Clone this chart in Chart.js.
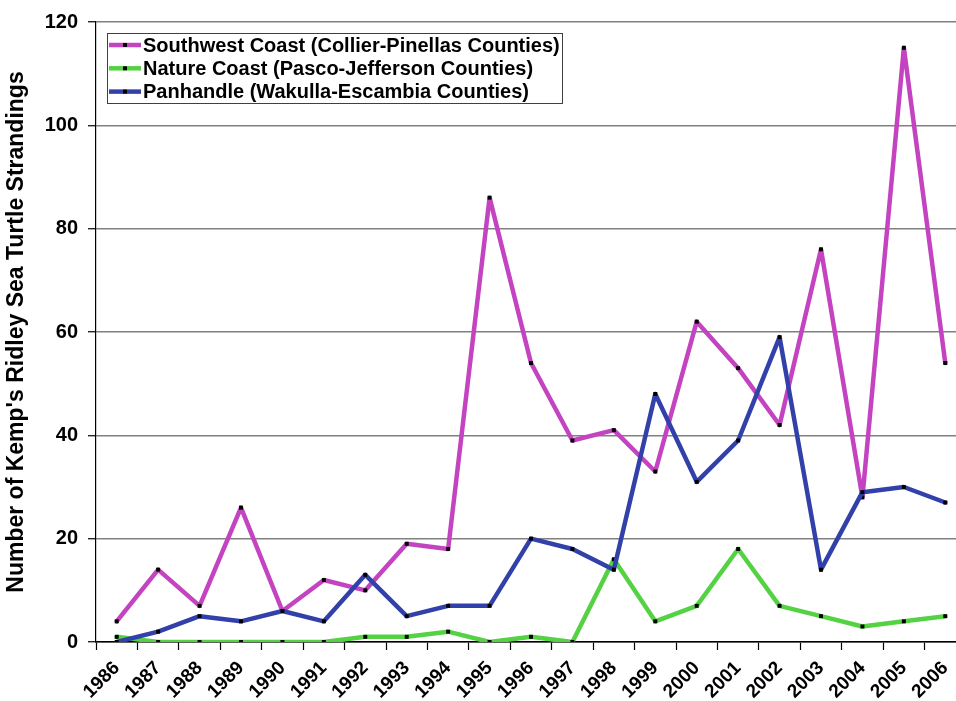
<!DOCTYPE html>
<html>
<head>
<meta charset="utf-8">
<script src="https://cdn.jsdelivr.net/npm/chart.js@4.4.1/dist/chart.umd.min.js"></script>
<style>
  html, body { margin: 0; padding: 0; background: #fff; overflow: hidden; }
  #wrap { width: 970px; height: 701px; }
</style>
</head>
<body>
<div id="wrap">
  <canvas id="strandings" width="970" height="701"></canvas>
</div>
<script>
// Yearly strandings by Florida Gulf coast region
const years = ["1986", "1987", "1988", "1989", "1990", "1991", "1992", "1993", "1994", "1995", "1996",
  "1997", "1998", "1999", "2000", "2001", "2002", "2003", "2004", "2005", "2006"];
const southwestCoast = [4, 14, 7, 26, 6, 12, 10, 19, 18, 86, 54, 39, 41, 33, 62, 53, 42, 76, 28, 115, 54];
const natureCoast = [1, 0, 0, 0, 0, 0, 1, 1, 2, 0, 1, 0, 16, 4, 7, 18, 7, 5, 3, 4, 5];
const panhandle = [0, 2, 5, 4, 6, 4, 13, 5, 7, 7, 20, 18, 14, 48, 31, 39, 59, 14, 29, 30, 27];
const seriesNames = [
  "Southwest Coast (Collier-Pinellas Counties)",
  "Nature Coast (Pasco-Jefferson Counties)",
  "Panhandle (Wakulla-Escambia Counties)",
];
const yTicks = [0, 20, 40, 60, 80, 100, 120];

const FONT = "'Liberation Sans', Arial, sans-serif";

// boxed legend sitting in the top-left corner of the plot
const legendBox = {
  id: "legendBox",
  afterDatasetsDraw(chart) {
    const { ctx, chartArea } = chart;
    const x = chartArea.left + 11;
    const y = chartArea.top + 11;
    const w = 455, h = 70, rowH = 23.3;
    ctx.save();
    ctx.fillStyle = "#fff";
    ctx.fillRect(x, y, w, h);
    ctx.strokeStyle = "#404040";
    ctx.lineWidth = 1;
    ctx.strokeRect(x + 0.5, y + 0.5, w, h);
    ctx.font = "bold 20px " + FONT;
    ctx.textBaseline = "middle";
    chart.data.datasets.forEach((ds, i) => {
      const cy = y + 12 + i * rowH;
      ctx.strokeStyle = ds.borderColor;
      ctx.lineWidth = 4.5;
      ctx.beginPath();
      ctx.moveTo(x + 2, cy);
      ctx.lineTo(x + 34, cy);
      ctx.stroke();
      ctx.fillStyle = "#000";
      ctx.fillRect(x + 16, cy - 2, 4, 4);
      ctx.fillText(ds.label, x + 36, cy + 1);
    });
    ctx.restore();
  },
};

const makeSeries = (label, data, color, order) => ({
  label,
  data,
  order,
  borderColor: color,
  backgroundColor: "#000",
  borderWidth: 4.5,
  borderJoinStyle: "round",
  borderCapStyle: "round",
  tension: 0,
  pointStyle: "rect",
  pointRadius: 2.8,
  pointBorderWidth: 0,
  pointBackgroundColor: "#000",
});

new Chart(document.getElementById("strandings"), {
  type: "line",
  data: {
    labels: years,
    datasets: [
      makeSeries(seriesNames[0], southwestCoast, "#C443C0", 3),
      makeSeries(seriesNames[1], natureCoast, "#55D243", 2),
      makeSeries(seriesNames[2], panhandle, "#3241AA", 1),
    ],
  },
  options: {
    responsive: false,
    animation: false,
    devicePixelRatio: 1,
    layout: { padding: { top: 18, right: 4, left: 0, bottom: 0 } },
    plugins: {
      legend: { display: false },
      tooltip: { enabled: false },
    },
    scales: {
      x: {
        type: "category",
        offset: true,
        afterFit: (scale) => { scale.height = 59; },
        grid: {
          display: true,
          drawOnChartArea: false,
          offset: true,
          tickLength: 8,
          tickColor: "#000",
          tickWidth: 1.2,
        },
        border: { color: "#000", width: 1.5 },
        ticks: {
          autoSkip: false,
          minRotation: 45,
          maxRotation: 45,
          padding: 7,
          color: "#000",
          font: { family: FONT, size: 19, weight: "bold" },
        },
      },
      y: {
        min: 0,
        max: 120,
        afterFit: (scale) => { scale.width = 96; },
        afterBuildTicks: (scale) => { scale.ticks = yTicks.map((v) => ({ value: v })); },
        grid: {
          color: "#808080",
          lineWidth: 1.5,
          tickLength: 8,
          tickColor: "#000",
          tickWidth: 1.2,
        },
        border: { color: "#000", width: 1.2 },
        ticks: {
          padding: 10,
          color: "#000",
          font: { family: FONT, size: 20, weight: "bold" },
        },
        title: {
          display: true,
          text: "Number of Kemp's Ridley Sea Turtle Strandings",
          color: "#000",
          padding: { top: 3, bottom: 0 },
          font: { family: FONT, size: 23, weight: "bold" },
        },
      },
    },
  },
  plugins: [legendBox],
});
</script>
</body>
</html>
